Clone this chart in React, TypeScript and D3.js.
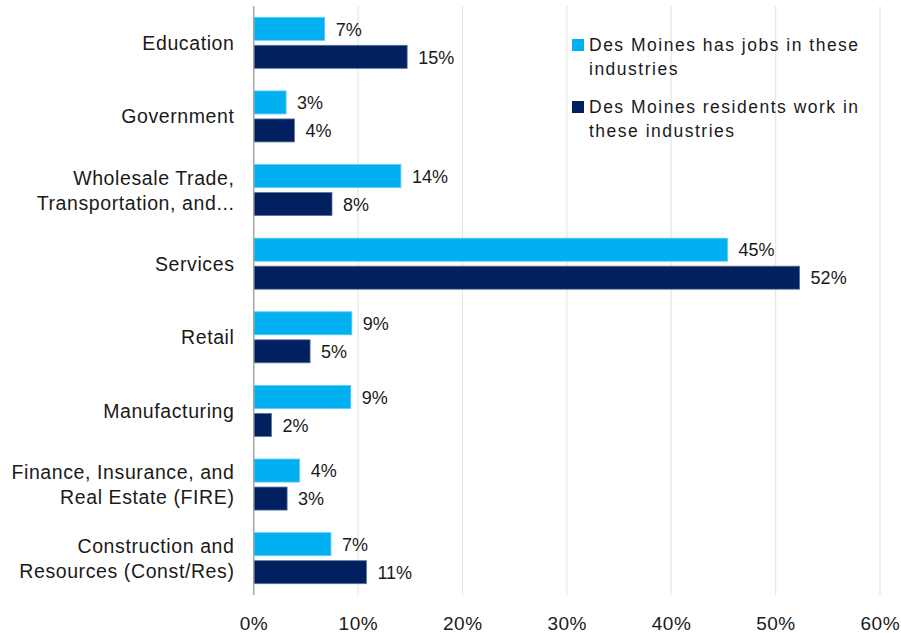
import React from "react";
import * as d3 from "d3";

const categories: string[][] = [
  ["Education"],
  ["Government"],
  ["Wholesale Trade,", "Transportation, and..."],
  ["Services"],
  ["Retail"],
  ["Manufacturing"],
  ["Finance, Insurance, and", "Real Estate (FIRE)"],
  ["Construction and", "Resources (Const/Res)"],
];
const jobsValues = [6.8, 3.1, 14.1, 45.4, 9.4, 9.3, 4.4, 7.4];
const residentsValues = [14.7, 3.9, 7.5, 52.3, 5.4, 1.7, 3.2, 10.8];
const jobsLabels = ["7%", "3%", "14%", "45%", "9%", "9%", "4%", "7%"];
const residentsLabels = ["15%", "4%", "8%", "52%", "5%", "2%", "3%", "11%"];
const xTicks = [0, 10, 20, 30, 40, 50, 60];
const legendItems = [
  { lines: ["Des Moines has jobs in these", "industries"], color: "#00B0F0" },
  { lines: ["Des Moines residents work in", "these industries"], color: "#002060" },
];

const W = 901;
const H = 633;
const FONT = "'Liberation Sans', Arial, sans-serif";

export default function App() {
  const x = d3.scaleLinear().domain([0, 60]).range([253.7, 880]);
  const y = d3
    .scaleBand<number>()
    .domain(d3.range(categories.length))
    .range([6, 595]);
  const barH = 23;
  const gap = 5;

  return (
    <svg
      width={W}
      height={H}
      style={{ position: "absolute", left: 0, top: 0, background: "#fff" }}
      fontFamily={FONT}
    >
      {xTicks.slice(1).map((t) => (
        <line key={t} x1={x(t)} x2={x(t)} y1={6} y2={595} stroke="#e6e6e6" strokeWidth={1.2} />
      ))}
      {categories.map((lines, i) => {
        const c = (y(i) as number) + y.bandwidth() / 2;
        const y1 = c - gap / 2 - barH;
        const y2 = c + gap / 2;
        return (
          <g key={i}>
            <rect x={x(0)} y={y1} width={x(jobsValues[i]) - x(0)} height={barH} fill="#00B0F0" stroke="#5ccaf5" strokeWidth={0.8} />
            <rect x={x(0)} y={y2} width={x(residentsValues[i]) - x(0)} height={barH} fill="#002060" stroke="#5a6f98" strokeWidth={0.8} />
            <text x={x(jobsValues[i]) + 11} y={y1 + barH / 2 + 6.8} fontSize={18} fill="#1a1a1a">
              {jobsLabels[i]}
            </text>
            <text x={x(residentsValues[i]) + 11} y={y2 + barH / 2 + 6.8} fontSize={18} fill="#1a1a1a">
              {residentsLabels[i]}
            </text>
            {lines.map((ln, k) => (
              <text
                key={k}
                x={234.5}
                y={c + 7 + (k - (lines.length - 1) / 2) * 25}
                textAnchor="end"
                fontSize={19.5}
                letterSpacing={0.6}
                fill="#1a1a1a"
              >
                {ln}
              </text>
            ))}
          </g>
        );
      })}
      <line x1={x(0)} x2={x(0)} y1={6} y2={595} stroke="#a6a6a6" strokeWidth={1.5} />
      {xTicks.map((t) => (
        <text key={t} x={x(t) + 0.3} y={629.5} textAnchor="middle" fontSize={19} letterSpacing={0.5} fill="#1a1a1a">
          {t}%
        </text>
      ))}
      {legendItems.map((it, i) => (
        <g key={i} transform={`translate(572, ${39 + i * 62})`}>
          <rect x={0} y={0} width={12} height={12} fill={it.color} />
          {it.lines.map((ln, k) => (
            <text key={k} x={17} y={12 + k * 24} fontSize={17.5} letterSpacing={1.5} fill="#1a1a1a">
              {ln}
            </text>
          ))}
        </g>
      ))}
    </svg>
  );
}
